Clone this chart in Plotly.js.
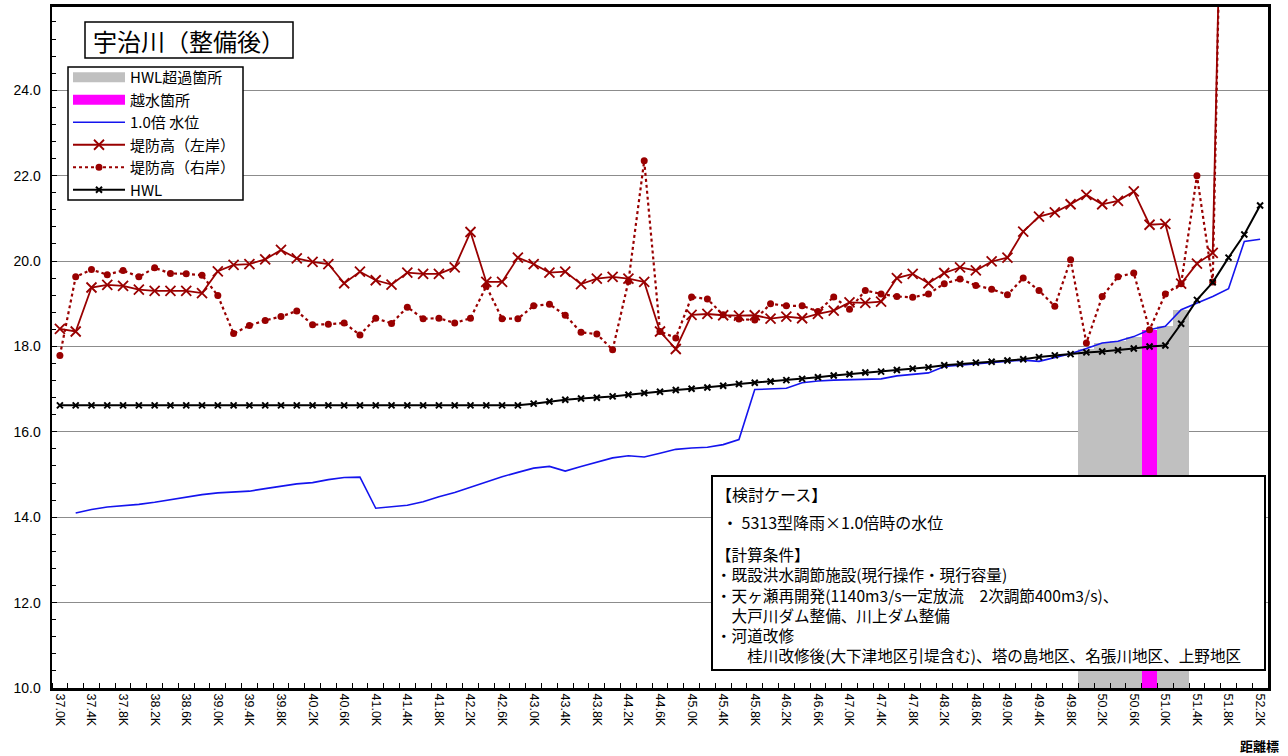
<!DOCTYPE html>
<html>
<head>
<meta charset="utf-8">
<script src="https://cdn.plot.ly/plotly-3.0.1.min.js"></script>
<style>
html,body{margin:0;padding:0;background:#ffffff;}
#chart{width:1288px;height:756px;}
</style>
</head>
<body>
<div id="chart"></div>
<script>
// ---- data ----
const kmLabels = ['37.0K','37.2K','37.4K','37.6K','37.8K','38.0K','38.2K','38.4K','38.6K','38.8K',
  '39.0K','39.2K','39.4K','39.6K','39.8K','40.0K','40.2K','40.4K','40.6K','40.8K',
  '41.0K','41.2K','41.4K','41.6K','41.8K','42.0K','42.2K','42.4K','42.6K','42.8K',
  '43.0K','43.2K','43.4K','43.6K','43.8K','44.0K','44.2K','44.4K','44.6K','44.8K',
  '45.0K','45.2K','45.4K','45.6K','45.8K','46.0K','46.2K','46.4K','46.6K','46.8K',
  '47.0K','47.2K','47.4K','47.6K','47.8K','48.0K','48.2K','48.4K','48.6K','48.8K',
  '49.0K','49.2K','49.4K','49.6K','49.8K','50.0K','50.2K','50.4K','50.6K','50.8K',
  '51.0K','51.2K','51.4K','51.6K','51.8K','52.0K','52.2K'];

const leftBank = [18.41,18.35,19.38,19.44,19.42,19.33,19.30,19.30,19.30,19.25,
  19.76,19.91,19.93,20.04,20.26,20.06,19.98,19.93,19.48,19.75,
  19.55,19.45,19.73,19.70,19.70,19.85,20.68,19.51,19.51,20.08,
  19.93,19.73,19.75,19.46,19.59,19.63,19.59,19.51,18.35,17.94,
  18.74,18.76,18.73,18.72,18.73,18.65,18.70,18.66,18.76,18.84,
  19.03,19.02,19.05,19.60,19.70,19.48,19.72,19.85,19.78,19.99,
  20.08,20.69,21.04,21.14,21.33,21.55,21.33,21.41,21.63,20.85,
  20.87,19.47,19.94,20.19,37.0,null,null];

const rightBank = [17.79,19.63,19.80,19.68,19.78,19.63,19.84,19.71,19.70,19.67,
  19.19,18.30,18.49,18.61,18.70,18.83,18.51,18.52,18.55,18.27,
  18.66,18.54,18.92,18.65,18.66,18.55,18.66,19.41,18.65,18.65,
  18.95,18.99,18.73,18.33,18.29,17.92,19.52,22.35,18.35,18.20,
  19.16,19.11,18.74,18.64,18.62,19.00,18.95,18.95,18.82,19.16,
  18.87,19.31,19.23,19.17,19.15,19.23,19.47,19.58,19.43,19.34,
  19.21,19.60,19.31,18.94,20.03,18.08,19.17,19.63,19.72,18.39,
  19.23,19.47,22.00,19.51,37.5,null,null];

const waterLevel = [null,14.10,14.18,14.24,14.27,14.30,14.35,14.41,14.48,14.53,
  14.57,14.59,14.61,14.67,14.73,14.78,14.81,14.88,14.93,14.94,
  14.21,14.24,14.28,14.36,14.48,14.58,14.70,14.83,14.95,15.05,
  15.15,15.19,15.08,15.19,15.29,15.39,15.44,15.41,15.50,15.59,
  15.62,15.64,15.70,15.82,16.99,17.01,17.02,17.15,17.19,17.21,
  17.22,17.22,17.24,17.31,17.34,17.38,17.53,17.56,17.59,17.63,
  17.66,17.68,17.65,17.74,17.83,17.95,18.08,18.12,18.23,18.39,
  18.47,18.86,19.02,19.17,19.35,20.46,20.51];

const hwl = [16.62,16.62,16.62,16.62,16.62,16.62,16.62,16.62,16.62,16.62,
  16.62,16.62,16.62,16.62,16.62,16.62,16.62,16.62,16.62,16.62,
  16.62,16.62,16.62,16.62,16.62,16.62,16.62,16.62,16.62,16.62,
  16.66,16.71,16.75,16.78,16.80,16.83,16.87,16.91,16.94,16.98,
  17.01,17.04,17.08,17.12,17.15,17.18,17.21,17.24,17.28,17.32,
  17.35,17.39,17.41,17.45,17.48,17.51,17.56,17.59,17.62,17.64,
  17.67,17.70,17.75,17.79,17.82,17.86,17.88,17.91,17.95,18.00,
  18.02,18.53,19.09,19.50,20.08,20.62,21.30];

const exceedKm = ['50.0K','50.2K','50.4K','50.6K','50.8K','51.0K','51.2K'];
const exceedLevel = [17.95,18.08,18.12,18.23,18.39,18.47,18.86];
const overflowKm = ['50.8K'];
const overflowLevel = [18.39];

const seriesNames = ['HWL超過箇所','越水箇所','1.0倍 水位','堤防高（左岸）','堤防高（右岸）','HWL'];
const chartTitle = '宇治川（整備後）';
const axisTitle = '距離標';
const noteCase = ['【検討ケース】','・ 5313型降雨×1.0倍時の水位'];
const noteConditions = ['【計算条件】',
  '・既設洪水調節施設(現行操作・現行容量)',
  '・天ヶ瀬再開発(1140m3/s一定放流　2次調節400m3/s)、',
  '　大戸川ダム整備、川上ダム整備',
  '・河道改修',
  '　　桂川改修後(大下津地区引堤含む)、塔の島地区、名張川地区、上野地区'];

// ---- layout helpers (pixel -> paper) ----
const PL = 52, PR = 1268, PT = 7, PB = 688;
const px = x => (x - PL) / (PR - PL);
const py = y => (PB - y) / (PB - PT);

const idx = kmLabels.map((_, i) => i);
const toIdx = arr => arr.map(k => kmLabels.indexOf(k));

const RED = '#990000';
const FONT = '"Noto Sans CJK JP", "Liberation Sans", sans-serif';

const traces = [
  // legend proxies for the column series
  {x:[null], y:[null], type:'scatter', mode:'lines', name:seriesNames[0],
   line:{color:'#c0c0c0', width:10}, hoverinfo:'skip'},
  {x:[null], y:[null], type:'scatter', mode:'lines', name:seriesNames[1],
   line:{color:'#ff00ff', width:10}, hoverinfo:'skip'},
  {x:idx, y:waterLevel, type:'scatter', mode:'lines', name:seriesNames[2],
   line:{color:'#1414ee', width:1.6}},
  {x:idx, y:leftBank, type:'scatter', mode:'lines+markers', name:seriesNames[3],
   line:{color:RED, width:1.8},
   marker:{symbol:'x-thin-open', size:10, color:RED, line:{color:RED, width:1.8}}},
  {x:idx, y:rightBank, type:'scatter', mode:'lines+markers', name:seriesNames[4],
   line:{color:RED, width:2.2, dash:'dot'},
   marker:{symbol:'circle', size:7, color:RED}},
  {x:idx, y:hwl, type:'scatter', mode:'lines+markers', name:seriesNames[5],
   line:{color:'#000000', width:2},
   marker:{symbol:'x-thin-open', size:6, color:'#000', line:{color:'#000', width:2}}},
  // columns
  {x:toIdx(exceedKm), y:exceedLevel, type:'bar', name:seriesNames[0], showlegend:false,
   width:1, marker:{color:'#c0c0c0', line:{width:0}}},
  {x:toIdx(overflowKm), y:overflowLevel, type:'bar', name:seriesNames[1], showlegend:false,
   width:1, marker:{color:'#ff00ff', line:{width:0}}}
];

const evenIdx = idx.filter(i => i % 2 === 0);

const annotations = [
  {xref:'paper', yref:'paper', x:px(189), y:py(40), xanchor:'center', yanchor:'middle',
   text:chartTitle, showarrow:false, font:{family:FONT, size:24, color:'#000'}},
  {xref:'paper', yref:'paper', x:px(1259), y:py(745), xanchor:'center', yanchor:'middle',
   text:'<b>' + axisTitle + '</b>', showarrow:false, font:{family:FONT, size:13, color:'#000'}},
  {xref:'paper', yref:'paper', x:px(714), y:py(494), xanchor:'left', yanchor:'middle',
   text:noteCase[0], showarrow:false, font:{family:FONT, size:16, color:'#000'}},
  {xref:'paper', yref:'paper', x:px(720), y:py(522), xanchor:'left', yanchor:'middle',
   text:noteCase[1], showarrow:false, font:{family:FONT, size:16, color:'#000'}},
  {xref:'paper', yref:'paper', x:px(714), y:py(604), xanchor:'left', yanchor:'middle',
   align:'left', text:noteConditions.join('<br>'), showarrow:false,
   font:{family:FONT, size:15.6, color:'#000'}}
];

const layout = {
  width:1288, height:756,
  margin:{l:PL, r:1288-PR, t:PT, b:756-PB, pad:0},
  paper_bgcolor:'#fff', plot_bgcolor:'#fff',
  font:{family:FONT, color:'#000'},
  barmode:'overlay', bargap:0,
  showlegend:true,
  legend:{x:px(68), y:py(61), xanchor:'left', yanchor:'top',
    bgcolor:'rgba(0,0,0,0)', borderwidth:0,
    font:{family:FONT, size:15, color:'#000'}, itemwidth:52, tracegroupgap:0},
  xaxis:{range:[-0.5, 76.5], tickmode:'array', tickvals:evenIdx,
    ticktext:evenIdx.map(i => kmLabels[i]), tickangle:90,
    tickfont:{family:'"Liberation Sans", sans-serif', size:12.5, color:'#000'},
    ticks:'', showgrid:false, zeroline:false,
    showline:true, linecolor:'#000', linewidth:3, mirror:true,
    minor:{tickmode:'linear', tick0:-0.5, dtick:1, ticks:'inside', ticklen:5,
      tickcolor:'#000', tickwidth:1, showgrid:false}},
  yaxis:{range:[10, 25.95], tickmode:'linear', tick0:10, dtick:2, tickformat:'.1f',
    tickfont:{family:'"Liberation Sans", sans-serif', size:14, color:'#000'},
    ticks:'inside', ticklen:5, tickcolor:'#000',
    showgrid:true, gridcolor:'#8c8c8c', gridwidth:1, zeroline:false,
    showline:true, linecolor:'#000', linewidth:2.5, mirror:true,
    ticklabelstandoff:6,
    minor:{dtick:0.4, ticks:'inside', ticklen:4, tickcolor:'#000', tickwidth:1, showgrid:false}},
  shapes:[
    {type:'rect', xref:'paper', yref:'paper', x0:px(712), x1:px(1265), y0:py(670), y1:py(476),
     fillcolor:'#fff', line:{color:'#000', width:2}, layer:'above'},
    {type:'rect', xref:'paper', yref:'paper', x0:px(85), x1:px(293), y0:py(58), y1:py(22),
     fillcolor:'#fff', line:{color:'#000', width:1.5}, layer:'above'},
    {type:'rect', xref:'paper', yref:'paper', x0:px(68), x1:px(243), y0:py(200), y1:py(67),
     fillcolor:'#fff', line:{color:'#000', width:1.5}, layer:'above'}
  ],
  annotations:annotations
};

Plotly.newPlot('chart', traces, layout, {displayModeBar:false, staticPlot:true});
</script>
</body>
</html>
